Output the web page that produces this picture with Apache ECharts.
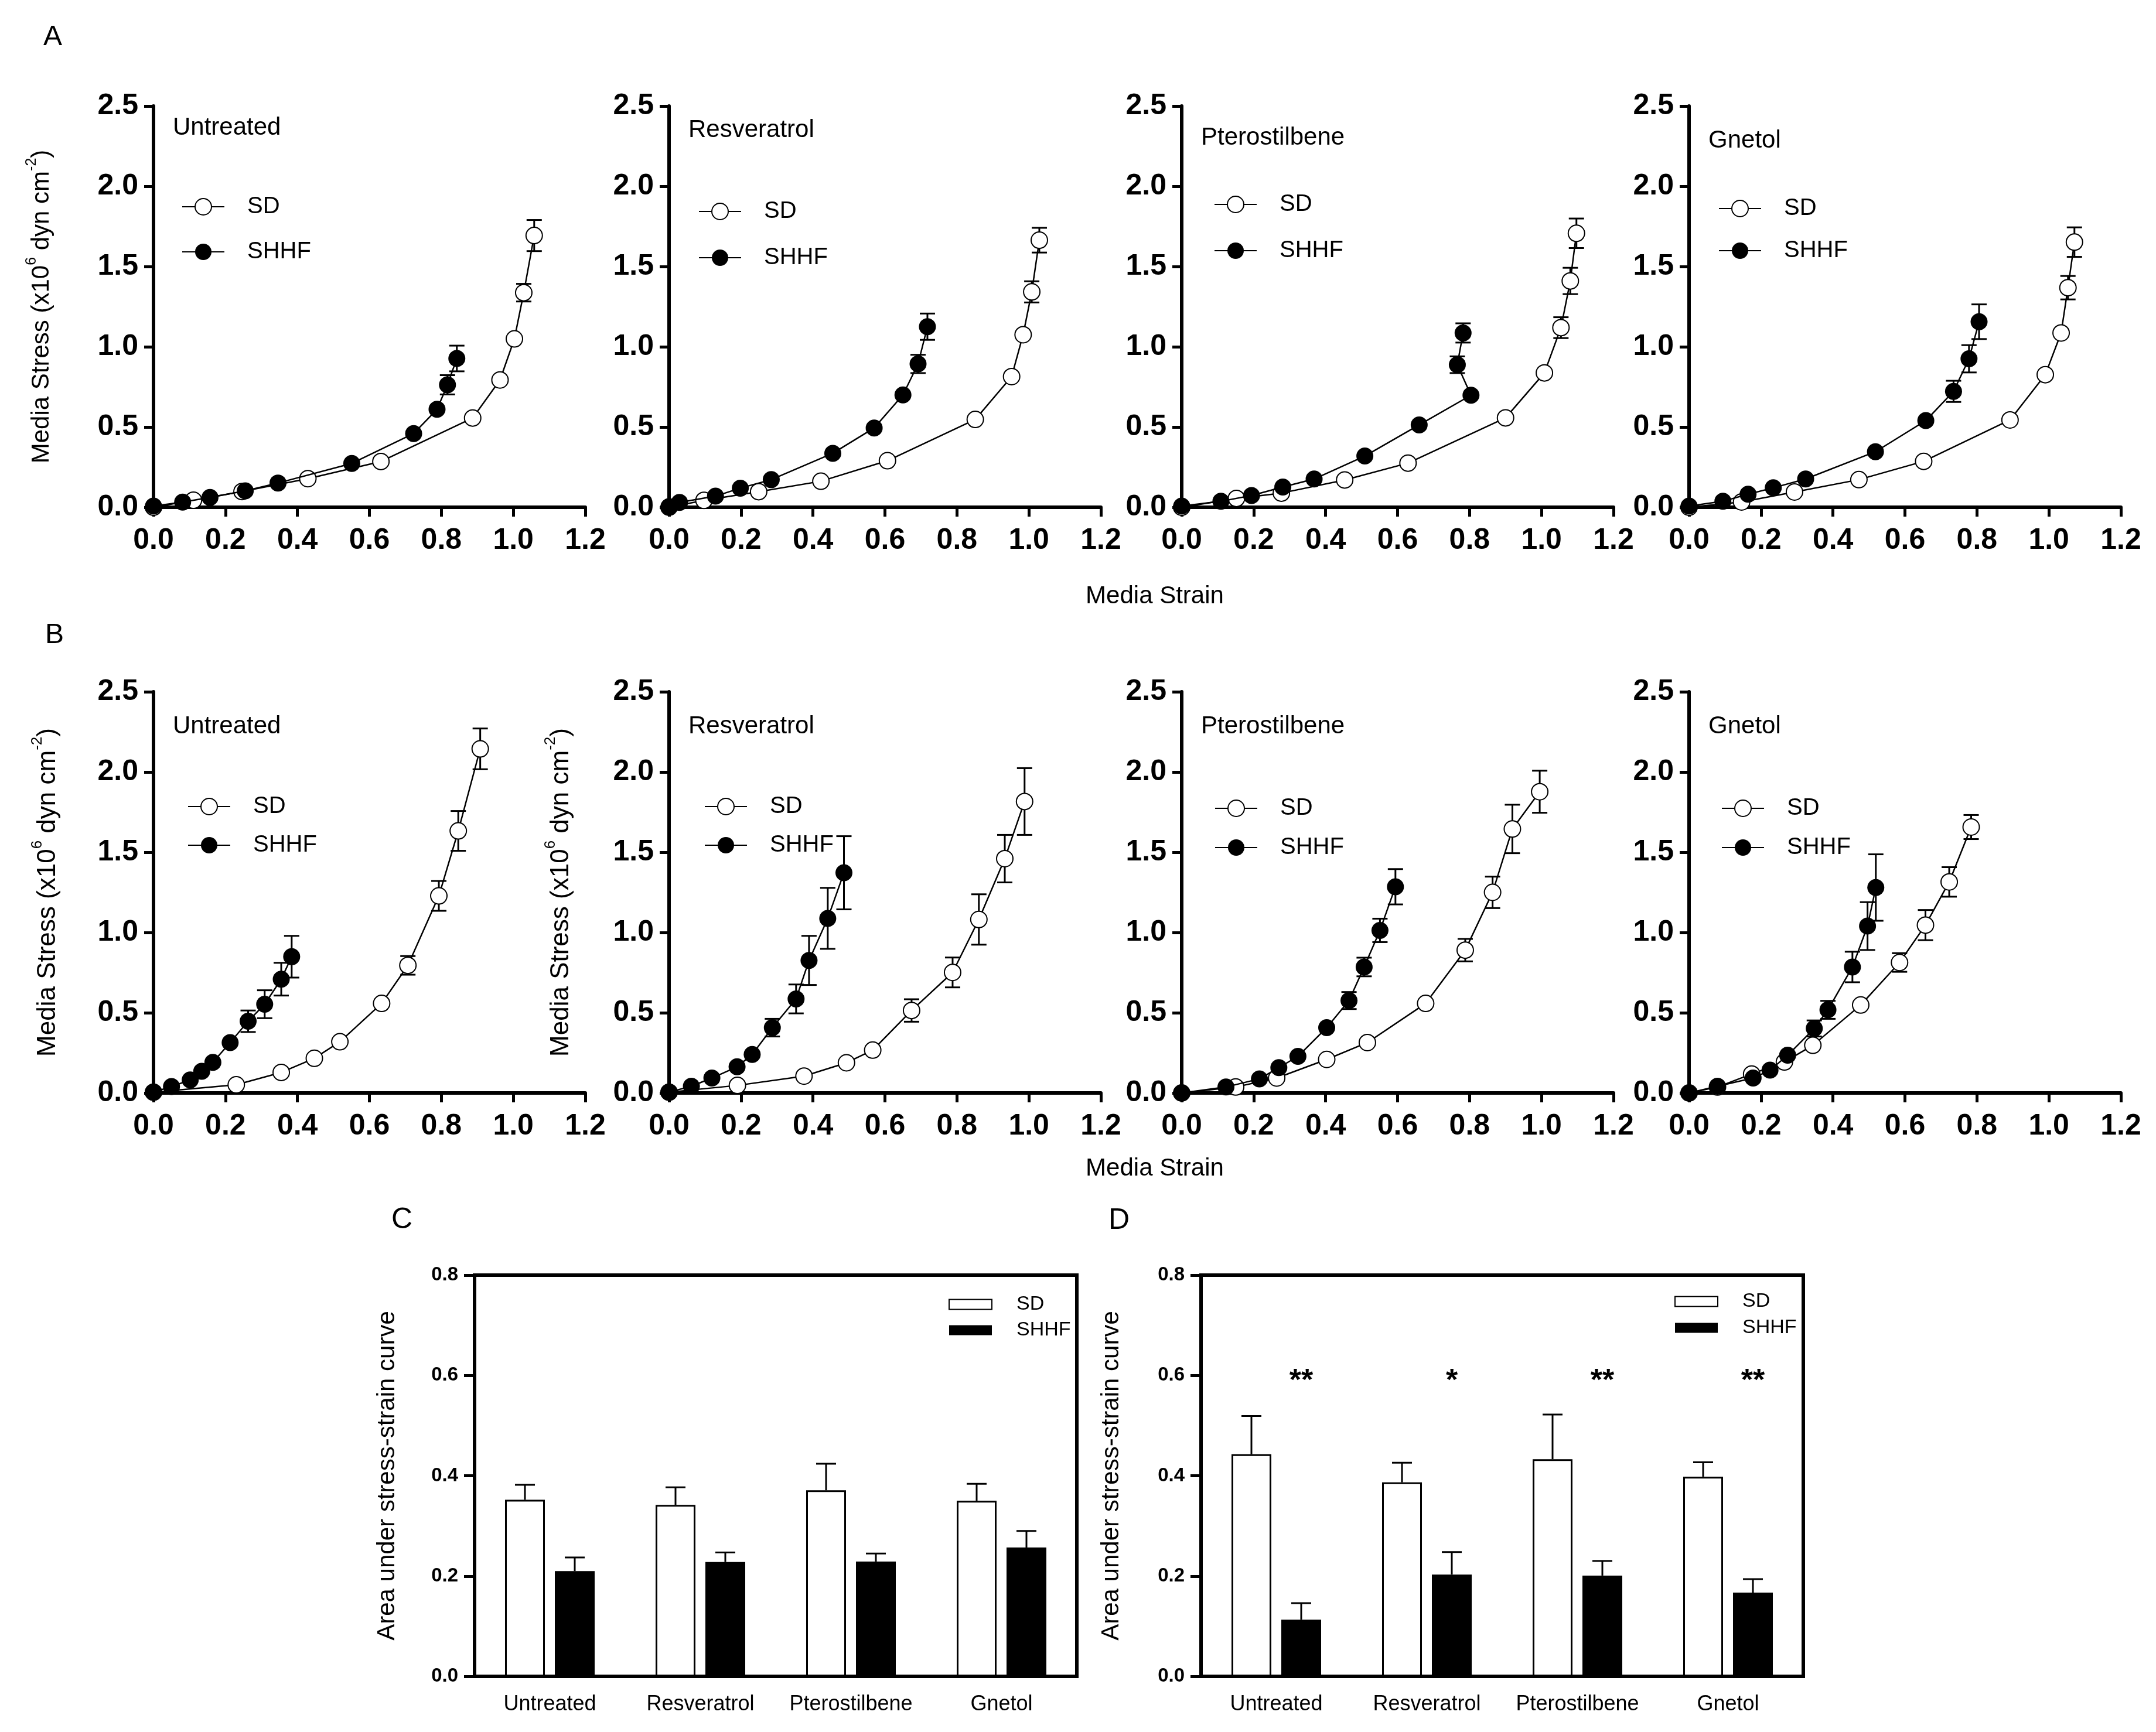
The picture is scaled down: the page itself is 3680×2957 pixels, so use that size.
<!DOCTYPE html>
<html>
<head>
<meta charset="utf-8">
<script src="https://cdn.jsdelivr.net/npm/echarts@6/dist/echarts.min.js"></script>
<style>html,body{margin:0;padding:0;background:#fff;}#c{width:3680px;height:2957px;}</style>
</head>
<body>
<div id="c"></div>
<script>
// ---------------- DATA ([strain, stress, SEM]) ----------------
const treatments = ['Untreated', 'Resveratrol', 'Pterostilbene', 'Gnetol'];
const strainTicks = [0, 0.2, 0.4, 0.6, 0.8, 1.0, 1.2];
const stressTicks = [0, 0.5, 1.0, 1.5, 2.0, 2.5];
const areaTicks = [0, 0.2, 0.4, 0.6, 0.8];

const A_Untreated_SD = [[0,0,0],[0.111,0.044,0],[0.246,0.098,0],[0.429,0.178,0],[0.632,0.285,0],[0.887,0.556,0],[0.963,0.793,0],[1.003,1.049,0],[1.029,1.337,0.055],[1.058,1.693,0.097]];
const A_Untreated_SHHF = [[0,0.007,0],[0.081,0.032,0],[0.157,0.061,0],[0.255,0.102,0],[0.346,0.151,0],[0.551,0.273,0],[0.723,0.459,0],[0.788,0.61,0],[0.817,0.763,0.06],[0.843,0.927,0.08]];
const A_Resveratrol_SD = [[0,0,0],[0.097,0.043,0],[0.249,0.097,0],[0.422,0.162,0],[0.607,0.29,0],[0.851,0.547,0],[0.952,0.814,0],[0.984,1.075,0],[1.008,1.342,0.066],[1.029,1.664,0.077]];
const A_Resveratrol_SHHF = [[0,0.004,0],[0.029,0.03,0],[0.129,0.069,0],[0.198,0.119,0],[0.284,0.172,0],[0.455,0.336,0],[0.57,0.494,0],[0.65,0.70,0],[0.692,0.893,0.057],[0.718,1.125,0.082]];
const A_Pterostilbene_SD = [[0,0,0],[0.152,0.055,0],[0.277,0.088,0],[0.453,0.17,0],[0.629,0.275,0],[0.90,0.557,0],[1.008,0.837,0],[1.054,1.119,0.065],[1.08,1.41,0.082],[1.097,1.707,0.092]];
const A_Pterostilbene_SHHF = [[0,0.007,0],[0.109,0.037,0],[0.194,0.073,0],[0.281,0.126,0],[0.368,0.176,0],[0.509,0.319,0],[0.66,0.513,0],[0.804,0.698,0],[0.766,0.888,0.052],[0.782,1.086,0.06]];
const A_Gnetol_SD = [[0,0,0],[0.146,0.033,0],[0.293,0.095,0],[0.472,0.172,0],[0.652,0.286,0],[0.892,0.544,0],[0.99,0.826,0],[1.034,1.086,0],[1.053,1.368,0.073],[1.071,1.652,0.092]];
const A_Gnetol_SHHF = [[0,0.007,0],[0.094,0.037,0],[0.164,0.081,0],[0.234,0.121,0],[0.324,0.176,0],[0.518,0.346,0],[0.658,0.54,0],[0.735,0.722,0.066],[0.778,0.925,0.085],[0.806,1.156,0.108]];

const B_Untreated_SD = [[0,0.005,0],[0.23,0.051,0],[0.355,0.128,0],[0.447,0.216,0],[0.518,0.319,0],[0.634,0.558,0],[0.707,0.795,0.058],[0.793,1.228,0.093],[0.847,1.633,0.124],[0.908,2.144,0.127]];
const B_Untreated_SHHF = [[0,0.005,0],[0.05,0.04,0],[0.102,0.081,0],[0.134,0.135,0],[0.165,0.191,0],[0.213,0.314,0],[0.263,0.447,0.067],[0.309,0.553,0.087],[0.355,0.709,0.102],[0.384,0.849,0.13]];
const B_Resveratrol_SD = [[0,0.005,0],[0.19,0.047,0],[0.375,0.105,0],[0.493,0.188,0],[0.566,0.267,0],[0.674,0.514,0.07],[0.788,0.751,0.093],[0.861,1.081,0.157],[0.933,1.46,0.148],[0.988,1.816,0.208]];
const B_Resveratrol_SHHF = [[0,0.005,0],[0.062,0.042,0],[0.119,0.093,0],[0.189,0.163,0],[0.231,0.24,0],[0.287,0.407,0.055],[0.353,0.586,0.09],[0.389,0.826,0.153],[0.441,1.088,0.19],[0.486,1.372,0.228]];
const B_Pterostilbene_SD = [[0,0,0],[0.15,0.037,0],[0.264,0.093,0],[0.403,0.209,0],[0.516,0.314,0],[0.678,0.558,0],[0.788,0.89,0.07],[0.864,1.25,0.098],[0.919,1.645,0.151],[0.995,1.877,0.131]];
const B_Pterostilbene_SHHF = [[0,0,0],[0.123,0.037,0],[0.216,0.088,0],[0.27,0.158,0],[0.323,0.228,0],[0.403,0.407,0],[0.465,0.576,0.053],[0.507,0.785,0.058],[0.551,1.013,0.073],[0.594,1.285,0.11]];
const B_Gnetol_SD = [[0,0,0],[0.079,0.037,0],[0.174,0.118,0],[0.265,0.193,0],[0.344,0.297,0],[0.477,0.548,0],[0.585,0.813,0.058],[0.657,1.046,0.094],[0.723,1.315,0.092],[0.784,1.657,0.075]];
const B_Gnetol_SHHF = [[0,0,0],[0.079,0.042,0],[0.178,0.093,0],[0.225,0.142,0],[0.274,0.235,0],[0.348,0.402,0.05],[0.386,0.518,0.056],[0.454,0.785,0.095],[0.496,1.04,0.149],[0.519,1.28,0.207]];

const C_SD = [0.352, 0.342, 0.371, 0.350];
const C_SD_err = [0.030, 0.035, 0.053, 0.034];
const C_SHHF = [0.210, 0.228, 0.229, 0.257];
const C_SHHF_err = [0.027, 0.019, 0.016, 0.033];
const D_SD = [0.443, 0.387, 0.433, 0.398];
const D_SD_err = [0.076, 0.039, 0.089, 0.029];
const D_SHHF = [0.113, 0.203, 0.201, 0.167];
const D_SHHF_err = [0.033, 0.045, 0.029, 0.027];
const D_stars = ['**', '*', '**', '**'];

// ---------------- LAYOUT / STYLE ----------------
const FONT = '"Liberation Sans", Arial, Helvetica, sans-serif';
const gridLefts = [262, 1142, 2017, 2883];
const rowTops = [181, 1181];
const GW = 737, GH = 685;
const titleY = [[218, 222, 235, 240], [1240, 1240, 1240, 1240]];
const legSD = [[348, 356, 344, 351], [1372, 1372, 1375, 1375]];
const legSHHF = [[425, 435, 423, 423], [1438, 1438, 1442, 1442]];
const legLeftOff = [[43, 45, 50, 45], [53, 55, 51, 50]];
const yNameGap = {0: 170, 4: 158, 5: 162};
const LEG_FS = 40;

const rows = [
  [A_Untreated_SD, A_Untreated_SHHF, A_Resveratrol_SD, A_Resveratrol_SHHF, A_Pterostilbene_SD, A_Pterostilbene_SHHF, A_Gnetol_SD, A_Gnetol_SHHF],
  [B_Untreated_SD, B_Untreated_SHHF, B_Resveratrol_SD, B_Resveratrol_SHHF, B_Pterostilbene_SD, B_Pterostilbene_SHHF, B_Gnetol_SD, B_Gnetol_SHHF]
];

const grid = [], xAxis = [], yAxis = [], series = [], legend = [], graphic = [];

function errRender(params, api) {
  const x = api.value(0), y = api.value(1), e = api.value(2);
  if (!e) return null;
  const t = api.coord([x, y + e]), b = api.coord([x, y - e]);
  const hw = 13, st = {stroke: '#000', lineWidth: 3};
  return {type: 'group', children: [
    {type: 'line', shape: {x1: t[0], y1: t[1], x2: b[0], y2: b[1]}, style: st},
    {type: 'line', shape: {x1: t[0] - hw, y1: t[1], x2: t[0] + hw, y2: t[1]}, style: st},
    {type: 'line', shape: {x1: b[0] - hw, y1: b[1], x2: b[0] + hw, y2: b[1]}, style: st}
  ]};
}

const stressName = '{a|Media Stress (x10}{s|6}{a| dyn cm}{s|-2}{a|)}';

for (let r = 0; r < 2; r++) {
  for (let p = 0; p < 4; p++) {
    const idx = r * 4 + p;
    grid.push({left: gridLefts[p], top: rowTops[r], width: GW, height: GH, containLabel: false});
    xAxis.push({
      type: 'value', gridIndex: idx, min: strainTicks[0], max: strainTicks[strainTicks.length - 1], interval: 0.2,
      axisLine: {lineStyle: {color: '#000', width: 6}},
      axisTick: {length: 16, lineStyle: {color: '#000', width: 5}},
      splitLine: {show: false},
      axisLabel: {formatter: v => v.toFixed(1), fontSize: 50, fontWeight: 'bold', fontFamily: FONT, color: '#000', margin: 32}
    });
    const ya = {
      type: 'value', gridIndex: idx, min: stressTicks[0], max: stressTicks[stressTicks.length - 1], interval: 0.5,
      axisLine: {show: true, lineStyle: {color: '#000', width: 6}},
      axisTick: {show: true, length: 16, lineStyle: {color: '#000', width: 5}},
      splitLine: {show: false},
      axisLabel: {formatter: v => v.toFixed(1), fontSize: 50, fontWeight: 'bold', fontFamily: FONT, color: '#000', margin: 26}
    };
    if (yNameGap[idx] !== undefined) {
      const fs = r === 0 ? 42 : 44;
      ya.name = stressName;
      ya.nameLocation = 'middle';
      ya.nameRotate = 90;
      ya.nameGap = yNameGap[idx];
      ya.nameTextStyle = {
        rich: {
          a: {fontSize: fs, fontFamily: FONT, color: '#000', lineHeight: fs * 1.2, verticalAlign: 'bottom'},
          s: {fontSize: Math.round(fs * 0.6), fontFamily: FONT, color: '#000', lineHeight: fs * 1.2, verticalAlign: 'top', padding: [0, 0, 0, 0]}
        }
      };
    }
    yAxis.push(ya);

    const sd = rows[r][p * 2], sh = rows[r][p * 2 + 1];
    series.push({type: 'custom', name: 'errSD' + idx, xAxisIndex: idx, yAxisIndex: idx, renderItem: errRender, data: sd, encode: {x: 0, y: 1}, z: 1, silent: true});
    series.push({type: 'custom', name: 'errSHHF' + idx, xAxisIndex: idx, yAxisIndex: idx, renderItem: errRender, data: sh, encode: {x: 0, y: 1}, z: 1, silent: true});
    series.push({type: 'line', name: 'SD', xAxisIndex: idx, yAxisIndex: idx, data: sd.map(d => [d[0], d[1]]),
      symbol: 'emptyCircle', symbolSize: 28, showAllSymbol: true, clip: false,
      lineStyle: {color: '#000', width: 2.5}, itemStyle: {color: '#000', borderColor: '#000', borderWidth: 3}, z: 3, animation: false});
    series.push({type: 'line', name: 'SHHF', xAxisIndex: idx, yAxisIndex: idx, data: sh.map(d => [d[0], d[1]]),
      symbol: 'circle', symbolSize: 29, showAllSymbol: true, clip: false,
      lineStyle: {color: '#000', width: 2.5}, itemStyle: {color: '#000'}, z: 4, animation: false});

    legend.push({
      data: ['SD', 'SHHF'], orient: 'vertical', selectedMode: false,
      left: gridLefts[p] + legLeftOff[r][p], top: legSD[r][p] - LEG_FS / 2,
      itemWidth: 72, itemHeight: 35, itemGap: legSHHF[r][p] - legSD[r][p] - LEG_FS,
      textStyle: {fontSize: LEG_FS, fontFamily: FONT, color: '#000', padding: [0, 0, 0, 34]}
    });

    graphic.push({type: 'text', x: gridLefts[p] + 33, y: titleY[r][p],
      style: {text: treatments[p], fontSize: 42, fontFamily: FONT, fill: '#000', align: 'left', verticalAlign: 'middle', textAlign: 'left', textVerticalAlign: 'middle'}});
  }
}

// ---------------- BAR PANELS C, D ----------------
const barLefts = [810, 2050];
const BAR_TOP = 2177, BAR_H = 685, BAR_W = 1028;
const BAR_OFFSET = 42.5;
const barNameGap = [128, 132];
const barLegLeft = [1614, 2853];
const barLegSD = [2222, 2217];
const barLegSHHF = [2266, 2262];
const BAR_LEG_FS = 34;
const barSets = [[C_SD, C_SD_err, C_SHHF, C_SHHF_err], [D_SD, D_SD_err, D_SHHF, D_SHHF_err]];

function barErr(sign) {
  return function (params, api) {
    const i = api.value(0), v = api.value(1), e = api.value(2);
    const b = api.coord([i, v]), t = api.coord([i, v + e]);
    const x = b[0] + sign * BAR_OFFSET, hw = 17, st = {stroke: '#000', lineWidth: 3};
    return {type: 'group', children: [
      {type: 'line', shape: {x1: x, y1: b[1], x2: x, y2: t[1]}, style: st},
      {type: 'line', shape: {x1: x - hw, y1: t[1], x2: x + hw, y2: t[1]}, style: st}
    ]};
  };
}

for (let k = 0; k < 2; k++) {
  const idx = 8 + k;
  grid.push({left: barLefts[k], top: BAR_TOP, width: BAR_W, height: BAR_H, show: true, borderColor: '#000', borderWidth: 6, backgroundColor: 'transparent'});
  xAxis.push({
    type: 'category', gridIndex: idx, data: treatments, boundaryGap: true,
    axisLine: {lineStyle: {color: '#000', width: 6}}, axisTick: {show: false},
    axisLabel: {interval: 0, fontSize: 36, fontFamily: FONT, color: '#000', margin: 30}
  });
  yAxis.push({
    type: 'value', gridIndex: idx, min: areaTicks[0], max: areaTicks[areaTicks.length - 1], interval: 0.2,
    axisLine: {show: true, lineStyle: {color: '#000', width: 6}},
    axisTick: {show: true, length: 18, lineStyle: {color: '#000', width: 5}},
    splitLine: {show: false},
    axisLabel: {formatter: v => v.toFixed(1), fontSize: 33, fontWeight: 'bold', fontFamily: FONT, color: '#000', margin: 28},
    name: 'Area under stress-strain curve', nameLocation: 'middle', nameRotate: 90, nameGap: barNameGap[k],
    nameTextStyle: {fontSize: 42, fontFamily: FONT, color: '#000'}
  });
  const [sdv, sde, shv, she] = barSets[k];
  series.push({type: 'bar', name: 'SD (bar)', xAxisIndex: idx, yAxisIndex: idx, data: sdv, barWidth: 68, barGap: '25%',
    itemStyle: {color: '#fff', borderColor: '#000', borderWidth: 3}, animation: false, z: 2});
  series.push({type: 'bar', name: 'SHHF (bar)', xAxisIndex: idx, yAxisIndex: idx, data: shv, barWidth: 68, barGap: '25%',
    itemStyle: {color: '#000', borderColor: '#000', borderWidth: 0}, animation: false, z: 2});
  series.push({type: 'custom', name: 'barErrSD' + k, xAxisIndex: idx, yAxisIndex: idx, renderItem: barErr(-1),
    data: sdv.map((v, i) => [i, v, sde[i]]), encode: {x: 0, y: 1}, z: 1, silent: true});
  series.push({type: 'custom', name: 'barErrSHHF' + k, xAxisIndex: idx, yAxisIndex: idx, renderItem: barErr(1),
    data: shv.map((v, i) => [i, v, she[i]]), encode: {x: 0, y: 1}, z: 1, silent: true});
  legend.push({
    data: ['SD (bar)', 'SHHF (bar)'], orient: 'vertical', selectedMode: false, icon: 'rect',
    left: barLegLeft[k], top: barLegSD[k] - BAR_LEG_FS / 2, itemWidth: 73, itemHeight: 17,
    itemGap: barLegSHHF[k] - barLegSD[k] - BAR_LEG_FS,
    formatter: n => n.replace(' (bar)', ''),
    textStyle: {fontSize: BAR_LEG_FS, fontFamily: FONT, color: '#000', padding: [0, 0, 0, 37]}
  });
}

// significance stars in D
series.push({type: 'custom', name: 'stars', xAxisIndex: 9, yAxisIndex: 9, silent: true, z: 5,
  data: D_stars.map((s, i) => [i, 0.6]), encode: {x: 0, y: 1},
  renderItem: function (params, api) {
    const c = api.coord([api.value(0), api.value(1)]);
    return {type: 'text', x: c[0] + BAR_OFFSET, y: c[1] + 10,
      style: {text: D_stars[params.dataIndex], fontSize: 52, fontWeight: 'bold', fontFamily: FONT, fill: '#000',
        align: 'center', verticalAlign: 'middle', textAlign: 'center', textVerticalAlign: 'middle'}};
  }});

// ---------------- TEXT LABELS ----------------
function txt(x, y, text, size, align) {
  return {type: 'text', x: x, y: y, style: {text: text, fontSize: size, fontFamily: FONT, fill: '#000',
    align: align || 'left', verticalAlign: 'middle', textAlign: align || 'left', textVerticalAlign: 'middle'}};
}
graphic.push(txt(74, 64, 'A', 48));
graphic.push(txt(77, 1085, 'B', 48));
graphic.push(txt(668, 2083, 'C', 50));
graphic.push(txt(1892, 2084, 'D', 50));
graphic.push(txt(1971, 1018, 'Media Strain', 42, 'center'));
graphic.push(txt(1971, 1995, 'Media Strain', 42, 'center'));

const chart = echarts.init(document.getElementById('c'), null, {renderer: 'canvas'});
chart.setOption({
  backgroundColor: '#fff',
  animation: false,
  textStyle: {fontFamily: FONT},
  grid: grid, xAxis: xAxis, yAxis: yAxis, series: series, legend: legend, graphic: graphic
});
</script>
</body>
</html>
